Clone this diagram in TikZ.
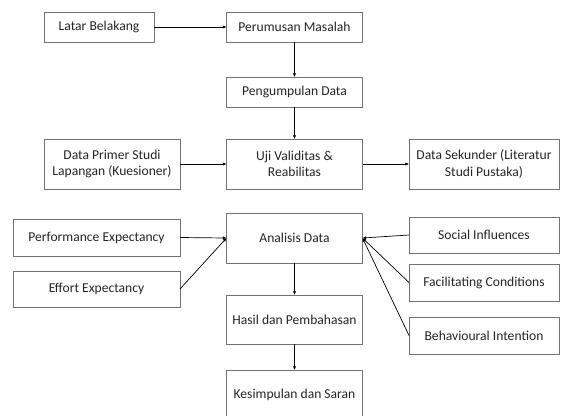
\documentclass[tikz,border=0pt]{standalone}
\usepackage{fontspec}
\setmainfont{Carlito}
\usepackage{tikz}
\usetikzlibrary{arrows.meta}

\begin{document}
\begin{tikzpicture}[x=0.03cm,y=-0.03cm,
  box/.style={draw=black!55, line width=0.6pt, fill=white, text=black!85,
    align=center, inner sep=0pt, outer sep=0pt, font=\fontsize{11.6}{14}\selectfont},
  flow/.style={line width=0.6pt, -{Latex[length=1.1mm,width=1mm]}}]
\useasboundingbox (0,0) rectangle (566,415);
% alur utama
\node[box, minimum width=3.3cm, minimum height=0.9cm] (latar) at (99,27) {Latar Belakang};
\node[box, minimum width=4.08cm, minimum height=0.9cm] (rumus) at (294.5,27) {Perumusan Masalah};
\node[box, minimum width=4.08cm, minimum height=0.9cm] (kumpul) at (294.5,92) {Pengumpulan Data};
\node[box, minimum width=4.08cm, minimum height=1.5cm] (primer) at (112,164) {Data Primer Studi\\Lapangan (Kuesioner)};
\node[box, minimum width=4.08cm, minimum height=1.5cm] (uji) at (294.5,164) {Uji Validitas \&\\Reabilitas};
\node[box, minimum width=4.5cm, minimum height=1.5cm] (sekunder) at (484,164) {Data Sekunder (Literatur\\Studi Pustaka)};
\node[box, minimum width=4.08cm, minimum height=1.5cm] (analisis) at (294.5,238) {Analisis Data};
\node[box, minimum width=4.08cm, minimum height=1.47cm] (hasil) at (294.5,319.5) {Hasil dan Pembahasan};
\node[box, minimum width=4.08cm, minimum height=1.5cm] (simpul) at (294.5,395) {Kesimpulan dan Saran};
% variabel
\node[box, minimum width=5.01cm, minimum height=1.11cm] (perf) at (96.5,237.5) {Performance Expectancy};
\node[box, minimum width=5.01cm, minimum height=1.08cm] (effort) at (96.5,289) {Effort Expectancy};
\node[box, minimum width=4.5cm, minimum height=1.08cm] (social) at (484,235) {Social Influences};
\node[box, minimum width=4.5cm, minimum height=1.11cm] (facil) at (484,282.5) {Facilitating Conditions};
\node[box, minimum width=4.5cm, minimum height=1.11cm] (behav) at (484,335.5) {Behavioural Intention};
% panah
\draw[flow] (latar) -- (rumus);
\draw[flow] (rumus) -- (kumpul);
\draw[flow] (kumpul) -- (uji);
\draw[flow] (primer) -- (uji);
\draw[flow] (uji) -- (sekunder);
\draw[flow] (analisis) -- (hasil);
\draw[flow] (hasil) -- (simpul);
\draw[flow] (perf.east) -- (analisis.west);
\draw[flow] (effort.east) -- (analisis.west);
\draw[flow] (social.west) -- (analisis.east);
\draw[flow] (facil.west) -- (analisis.east);
\draw[flow] (behav.west) -- (analisis.east);
\end{tikzpicture}
\end{document}
